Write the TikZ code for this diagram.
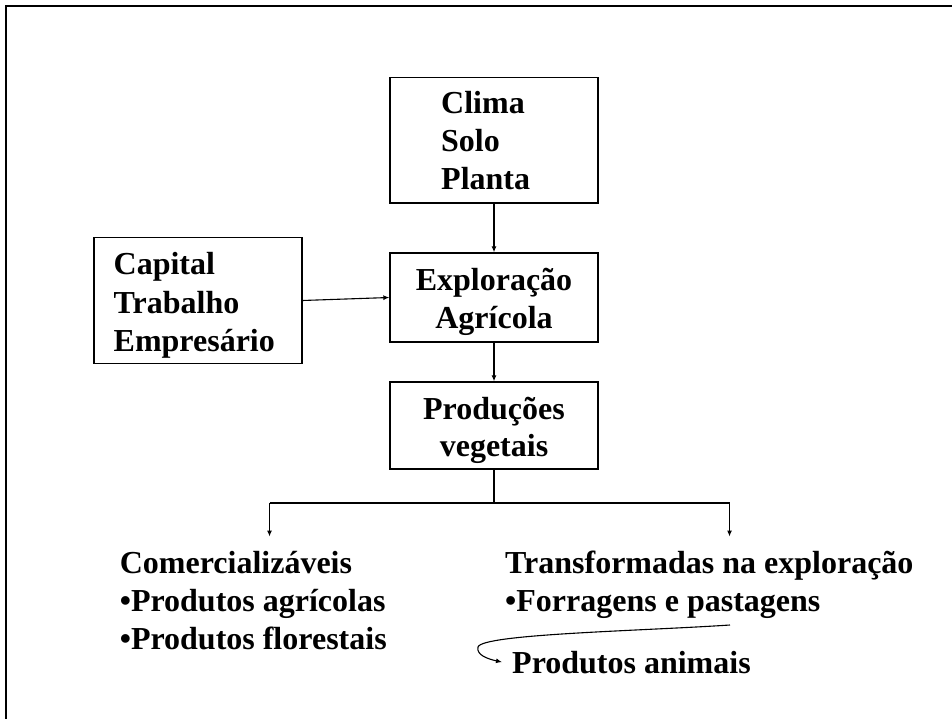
\documentclass[tikz,border=0pt]{standalone}
\usepackage{fontspec}
\setmainfont{Liberation Serif}
\usetikzlibrary{arrows.meta}
\begin{document}
\begin{tikzpicture}[x=1pt,y=-1pt,
  box/.style={draw,line width=1.4pt,minimum width=208pt,inner sep=0pt},
  txt/.style={anchor=base west,inner sep=0pt,font=\fontsize{32}{37.5}\selectfont\bfseries},
  ctxt/.style={anchor=base,inner sep=0pt,font=\fontsize{32}{37.5}\selectfont\bfseries},
  wire/.style={line width=1.1pt},
  conn/.style={line width=1.1pt,-{Latex[length=6pt,width=5pt]}}]
\useasboundingbox (0,0) rectangle (952,719);
\draw[line width=2.5pt] (6,719) -- (6,6) -- (952,6);
% boxes
\node[box,minimum height=125.5pt] (clima) at (494,140.25) {};
\node[box,minimum height=89pt] (expl) at (494,297.5) {};
\node[box,minimum height=87pt] (prod) at (494,425.5) {};
\node[box,minimum height=126pt] (cap) at (197.8,300.5) {};
% box texts
\node[txt] (t1) at (441,113.5) {Clima};
\node[txt] (t2) at (441,152) {Solo};
\node[txt] (t3) at (441,190) {Planta};
\node[ctxt] (t4) at (494,290) {Exploração};
\node[ctxt] (t5) at (494,328) {Agrícola};
\node[ctxt] (t6) at (494,419) {Produções};
\node[ctxt] (t7) at (494,456) {vegetais};
\node[txt] (t8) at (113.5,274) {Capital};
\node[txt] (t9) at (113.5,313) {Trabalho};
\node[txt] (t10) at (113.5,351) {Empresário};
% arrows
\draw[conn] (clima.south) -- (expl.north);
\draw[conn] (expl.south) -- (prod.north);
\draw[conn] (cap.east) -- (expl.west);
\coordinate (j) at (494,503);
\coordinate (bl) at (269.5,503);
\coordinate (br) at (729.5,503);
\coordinate (blt) at (269.5,536.5);
\coordinate (brt) at (729.5,536.5);
\draw[wire] (prod.south) -- (j);
\draw[wire] (bl) -- (br);
\draw[conn] (bl) -- (blt);
\draw[conn] (br) -- (brt);
% bottom texts
\node[txt] (c1) at (119.6,573) {Comercializáveis};
\node[txt] (c2) at (119.6,611) {•Produtos agrícolas};
\node[txt] (c3) at (119.6,649) {•Produtos florestais};
\node[txt] (r1) at (505,573) {Transformadas na exploração};
\node[txt] (r2) at (505,611) {•Forragens e pastagens};
\node[txt] (r3) at (512,673) {Produtos animais};
\coordinate (fs) at (730,625);
\coordinate (fe) at ([xshift=-10pt]r3.west);
\draw[conn] (fs) .. controls (640,631) and (482,634) .. (478,647) .. controls (476,655) and (488,659) .. (fe);
\end{tikzpicture}
\end{document}
